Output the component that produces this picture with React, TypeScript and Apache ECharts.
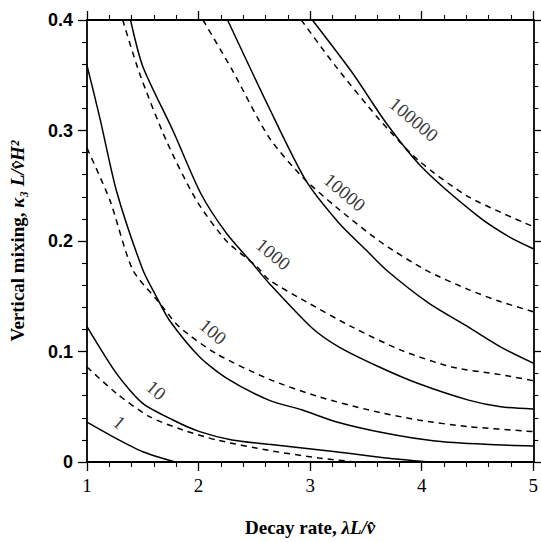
import React, { useEffect, useRef } from "react";
import * as echarts from "echarts";

// Contour values (labels) and curves: [x, y] pairs
const solid1: [number, number][] = [[1, 0.0360], [1.23, 0.023], [1.5, 0.0093], [1.79, 0]];
const solid10: [number, number][] = [[1, 0.1225], [1.265, 0.08], [1.5, 0.053], [1.77, 0.038], [2.01, 0.0275], [2.3, 0.02], [2.63, 0.016], [3.23, 0.0093], [3.68, 0.0036], [4.06, 0]];
const dashed10: [number, number][] = [[1, 0.086], [1.265, 0.062], [1.56, 0.041], [1.86, 0.029], [2.16, 0.02], [2.63, 0.0105], [3.08, 0.0036], [3.41, 0]];
const solid100: [number, number][] = [[1, 0.359], [1.116, 0.311], [1.265, 0.245], [1.5, 0.174], [1.62, 0.15], [1.74, 0.128], [2.01, 0.095], [2.25, 0.076], [2.63, 0.056], [2.93, 0.047], [3.23, 0.0365], [3.68, 0.026], [4.12, 0.019], [4.57, 0.016], [5, 0.0145]];
const dashed100: [number, number][] = [[1, 0.284], [1.205, 0.237], [1.41, 0.174], [1.65, 0.144], [1.83, 0.122], [2.16, 0.098], [2.63, 0.075], [3.08, 0.059], [3.53, 0.047], [3.97, 0.038], [4.42, 0.032], [5, 0.0275]];
const solid1000: [number, number][] = [[1.39, 0.4], [1.5, 0.358], [1.77, 0.3], [2.02, 0.243], [2.25, 0.207], [2.48, 0.18], [2.63, 0.162], [3.02, 0.121], [3.26, 0.104], [3.62, 0.086], [3.97, 0.071], [4.42, 0.056], [4.71, 0.05], [5, 0.048]];
const dashed1000: [number, number][] = [[1.32, 0.4], [1.47, 0.352], [1.71, 0.291], [1.98, 0.237], [2.25, 0.2], [2.52, 0.177], [2.63, 0.165], [2.93, 0.147], [3.38, 0.122], [3.82, 0.101], [4.27, 0.086], [4.71, 0.079], [5, 0.0736]];
const solid10000: [number, number][] = [[2.26, 0.4], [2.63, 0.321], [2.96, 0.255], [3.26, 0.216], [3.5, 0.192], [3.68, 0.174], [4.06, 0.144], [4.42, 0.122], [4.71, 0.104], [5, 0.0895]];
const dashed10000: [number, number][] = [[2.04, 0.4], [2.3, 0.355], [2.63, 0.294], [2.93, 0.258], [3.23, 0.231], [3.62, 0.2], [4.03, 0.174], [4.42, 0.156], [4.71, 0.145], [5, 0.136]];
const solid100000: [number, number][] = [[3.02, 0.4], [3.38, 0.352], [3.68, 0.307], [4.0, 0.267], [4.51, 0.222], [4.78, 0.204], [5, 0.193]];
const dashed100000: [number, number][] = [[2.92, 0.4], [3.23, 0.358], [3.62, 0.31], [3.97, 0.273], [4.42, 0.24], [5, 0.213]];

const solidCurves = [solid1, solid10, solid100, solid1000, solid10000, solid100000];
const dashedCurves = [dashed10, dashed100, dashed1000, dashed10000, dashed100000];

const contourLabels = ["1", "10", "100", "1000", "10000", "100000"];
const labelX = [1.29, 1.62, 2.13, 2.67, 3.31, 3.93];
const labelY = [0.036, 0.065, 0.118, 0.188, 0.244, 0.31];

const xTicks = [1, 2, 3, 4, 5];
const yTicks = [0, 0.1, 0.2, 0.3, 0.4];

const SERIF = "'Liberation Serif', 'DejaVu Serif', serif";
const SANS = "'Liberation Sans', Arial, sans-serif";

export default function App() {
  const ref = useRef<HTMLDivElement>(null);
  useEffect(() => {
    if (!ref.current) return;
    const chart = echarts.init(ref.current, null, { renderer: "svg" });
    const axisLine = { show: true, onZero: false, lineStyle: { color: "#000", width: 1.8 } };
    const tick = { show: true, inside: false, length: 9, lineStyle: { color: "#000", width: 1.3 } };
    const minor = { show: true, splitNumber: 5, length: 5, lineStyle: { color: "#000", width: 1.1 } };
    const xBase = {
      type: "value" as const,
      min: xTicks[0],
      max: xTicks[xTicks.length - 1],
      interval: 1,
      axisLine,
      axisTick: tick,
      minorTick: minor,
      splitLine: { show: false },
    };
    const yBase = {
      type: "value" as const,
      min: yTicks[0],
      max: yTicks[yTicks.length - 1],
      interval: 0.1,
      axisLine,
      axisTick: tick,
      minorTick: minor,
      splitLine: { show: false },
    };
    const series: any[] = [];
    solidCurves.forEach((c) =>
      series.push({
        type: "line",
        data: c,
        showSymbol: false,
        smooth: 0.25,
        lineStyle: { color: "#000", width: 1.5, type: "solid" },
        silent: true,
      })
    );
    dashedCurves.forEach((c) =>
      series.push({
        type: "line",
        data: c,
        showSymbol: false,
        smooth: 0.25,
        lineStyle: { color: "#000", width: 1.5, type: [6, 5] },
        silent: true,
      })
    );
    series.push({
      type: "scatter",
      symbolSize: 0,
      silent: true,
      data: contourLabels.map((t, i) => ({ value: [labelX[i], labelY[i]], name: t })),
      label: {
        show: true,
        position: "inside",
        formatter: (p: any) => p.name,
        rotate: -40,
        fontFamily: SERIF,
        fontSize: 19,
        color: "#000",
      },
    });
    chart.setOption({
      animation: false,
      backgroundColor: "#fff",
      grid: { left: 87, right: 6, top: 20, bottom: 80, containLabel: false },
      xAxis: [
        {
          ...xBase,
          position: "bottom",
          axisLabel: { show: true, margin: 14, color: "#000", fontFamily: SERIF, fontSize: 19 },
          name: "{r|Decay rate, }{i|λL/v̂}",
          nameLocation: "middle",
          nameGap: 56,
          nameTextStyle: {
            rich: {
              r: { fontFamily: SERIF, fontSize: 19, fontWeight: "bold", color: "#000" },
              i: { fontFamily: SERIF, fontSize: 19, fontWeight: "bold", fontStyle: "italic", color: "#000" },
            },
          },
        },
        { ...xBase, position: "top", axisLabel: { show: false } },
      ],
      yAxis: [
        {
          ...yBase,
          position: "left",
          axisLabel: {
            show: true,
            margin: 14,
            color: "#000",
            fontFamily: SANS,
            fontWeight: "bold",
            fontSize: 18,
            formatter: (v: number) => (v === 0 ? "0" : v.toFixed(1)),
          },
          name: "{r|Vertical mixing, }{i|κ₃ L/v̂H²}",
          nameLocation: "middle",
          nameGap: 60,
          nameRotate: 90,
          nameTextStyle: {
            rich: {
              r: { fontFamily: SERIF, fontSize: 19, fontWeight: "bold", color: "#000" },
              i: { fontFamily: SERIF, fontSize: 19, fontWeight: "bold", fontStyle: "italic", color: "#000" },
            },
          },
        },
        { ...yBase, position: "right", axisLabel: { show: false } },
      ],
      series,
    });
    return () => chart.dispose();
  }, []);
  return (
    <div
      ref={ref}
      style={{ position: "fixed", left: 0, top: 0, width: 541, height: 542 }}
    />
  );
}
